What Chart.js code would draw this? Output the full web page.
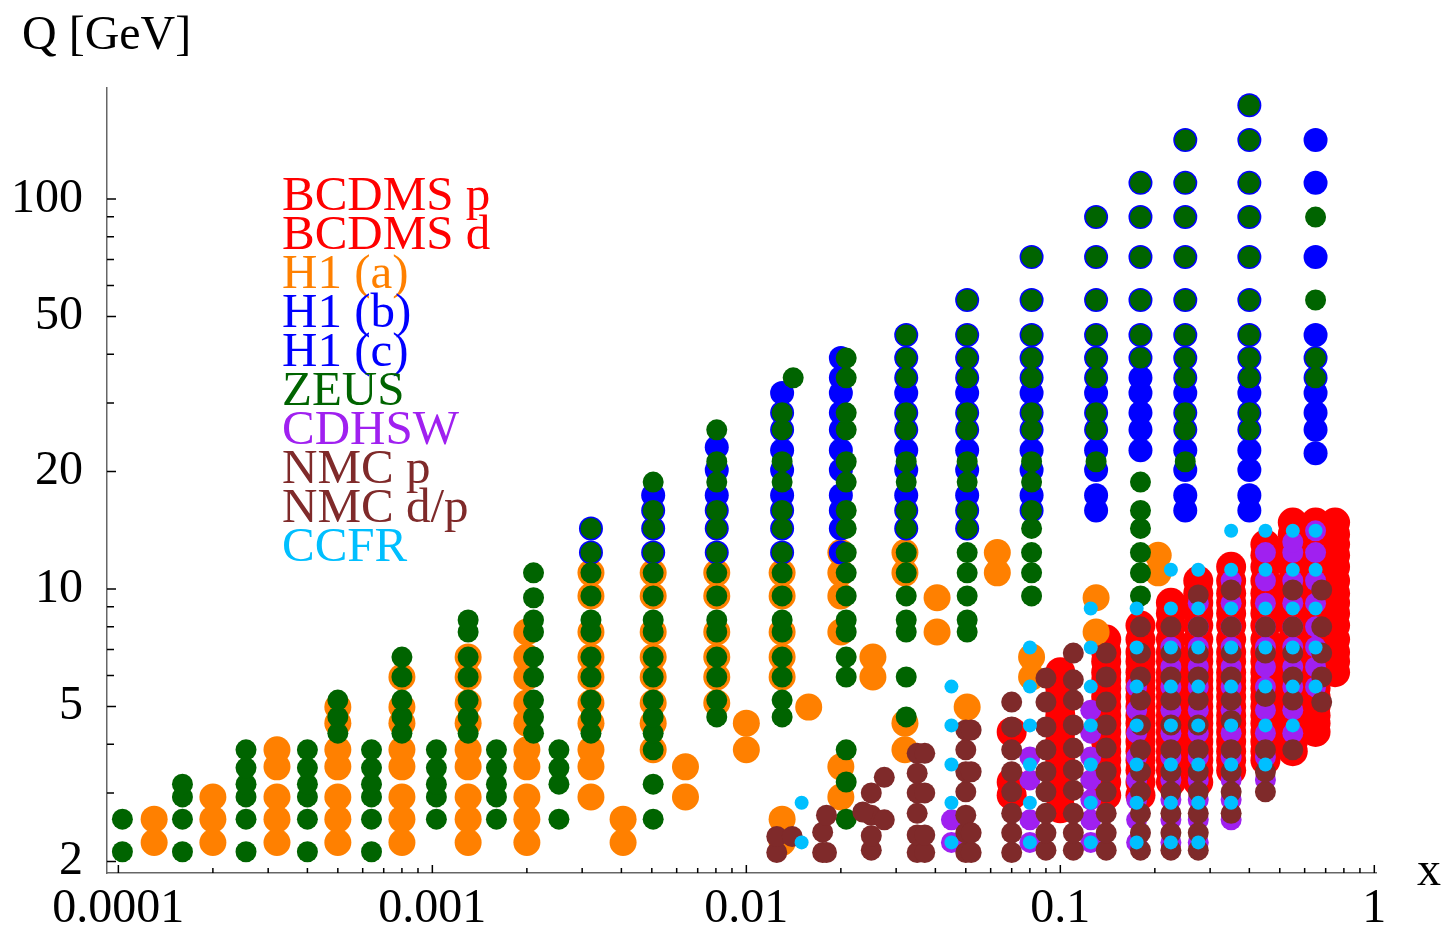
<!DOCTYPE html>
<html>
<head>
<meta charset="utf-8">
<script src="https://cdn.jsdelivr.net/npm/chart.js@4.4.1/dist/chart.umd.min.js"></script>
<style>
  body { margin: 0; background: #fff; }
  #wrap { position: relative; width: 1444px; height: 935px; font-family: "Liberation Serif", "Times New Roman", serif; }
  #c { position: absolute; left: 0; top: 0; }
  .lbl { position: absolute; font-size: 48px; line-height: 48px; color: #000; white-space: nowrap; }
  #legend { position: absolute; left: 282px; top: 174px; font-size: 49px; line-height: 39px; white-space: nowrap; }
</style>
</head>
<body>
<div id="wrap">
  <canvas id="c" width="1444" height="935"></canvas>
  <div class="lbl" style="left:22px; top:9px;">Q [GeV]</div>
  <div class="lbl" style="left:1417px; top:845px;">x</div>
  <div id="legend"></div>
</div>
<script>
// ---------- axis ticks ----------
const xTickVals = [0.0001, 0.001, 0.01, 0.1, 1];
const xTickLabels = ["0.0001", "0.001", "0.01", "0.1", "1"];
const yTickVals = [2, 5, 10, 20, 50, 100];
const yTickLabels = ["2", "5", "10", "20", "50", "100"];

// ---------- data: x bins and Q values [GeV] read at each bin ----------
// BCDMS p
const bcdmsPX = [0.07, 0.1, 0.14, 0.18, 0.225, 0.275, 0.35, 0.45, 0.55, 0.65, 0.75];
const bcdmsPQ = [
  [3.2],
  [2.74, 3.2, 3.64, 4.06, 4.53, 5.0, 5.57, 6.12],
  [3.2, 3.64, 4.06, 4.53, 5.0, 5.57, 6.12, 6.89],
  [3.2, 3.64, 4.06, 4.53, 5.0, 5.57, 6.12, 6.89, 8.06],
  [3.2, 3.64, 4.06, 4.53, 5.0, 5.57, 6.12, 6.89, 8.06, 9.22],
  [3.2, 3.64, 4.06, 4.53, 5.0, 5.57, 6.12, 6.89, 8.06, 9.22, 10.5],
  [3.64, 4.06, 4.53, 5.0, 5.57, 6.12, 6.89, 8.06, 9.22, 10.5],
  [3.64, 4.06, 4.53, 5.0, 5.57, 6.12, 6.89, 8.06, 9.22, 10.5, 12.2],
  [4.06, 4.53, 5.0, 5.57, 6.12, 6.89, 8.06, 9.22, 10.5, 12.2, 13.8],
  [4.53, 5.0, 5.57, 6.12, 6.89, 8.06, 9.22, 10.5, 12.2, 13.8],
  [6.12, 6.89, 8.06, 9.22, 10.5, 12.2, 13.8]
];
// BCDMS d
const bcdmsDX = [0.07, 0.1, 0.14, 0.18, 0.225, 0.275, 0.35, 0.45, 0.55, 0.65, 0.75];
const bcdmsDQ = [
  [2.96, 4.3],
  [2.96, 3.43, 3.84, 4.3, 4.74, 5.29, 5.83],
  [2.96, 3.43, 3.84, 4.3, 4.74, 5.29, 5.83, 6.52, 7.42],
  [2.96, 3.43, 3.84, 4.3, 4.74, 5.29, 5.83, 6.52, 7.42],
  [3.43, 3.84, 4.3, 4.74, 5.29, 5.83, 6.52, 7.42, 8.66],
  [3.43, 3.84, 4.3, 4.74, 5.29, 5.83, 6.52, 7.42, 8.66, 9.75],
  [3.43, 3.84, 4.3, 4.74, 5.29, 5.83, 6.52, 7.42, 8.66, 9.75, 11.4],
  [3.84, 4.3, 4.74, 5.29, 5.83, 6.52, 7.42, 8.66, 9.75, 11.4, 13.0],
  [3.84, 4.3, 4.74, 5.29, 5.83, 6.52, 7.42, 8.66, 9.75, 11.4, 13.0, 14.8],
  [4.3, 4.74, 5.29, 5.83, 6.52, 7.42, 8.66, 9.75, 11.4, 13.0, 14.8],
  [6.52, 7.42, 8.66, 9.75, 11.4, 13.0, 14.8]
];
// H1 (a)
const h1aX = [1.3e-4, 2.0e-4, 3.2e-4, 5.0e-4, 8.0e-4, 1.3e-3, 2.0e-3, 3.2e-3, 4.05e-3, 5.05e-3, 6.4e-3, 8.05e-3,
              1.0e-2, 1.3e-2, 1.58e-2, 2.0e-2, 2.53e-2, 3.2e-2, 4.05e-2, 5.05e-2, 6.3e-2, 8.1e-2, 0.13, 0.205];
const h1aQ = [
  [2.24, 2.57],
  [2.24, 2.57, 2.93],
  [2.24, 2.57, 2.93, 3.5, 3.87],
  [2.24, 2.57, 2.93, 3.5, 3.87, 4.53, 4.98],
  [2.24, 2.57, 2.93, 3.5, 3.87, 4.53, 4.98, 5.95],
  [2.24, 2.57, 2.93, 3.5, 3.87, 4.53, 5.1, 5.95, 6.69],
  [2.24, 2.57, 2.93, 3.5, 3.87, 4.53, 5.1, 5.95, 6.69, 7.76],
  [2.93, 3.5, 3.87, 4.53, 5.1, 5.95, 6.69, 7.76, 9.6, 11.0],
  [2.24, 2.57],
  [3.87, 4.53, 5.1, 5.95, 6.69, 7.76, 9.6, 11.0],
  [2.93, 3.5],
  [5.1, 5.95, 6.69, 7.76, 9.6, 11.0],
  [3.87, 4.53],
  [2.24, 2.57, 5.95, 6.69, 7.76, 9.6, 11.0],
  [4.98],
  [2.93, 3.5, 7.76, 9.6, 11.0, 12.4],
  [5.95, 6.69],
  [3.87, 4.53, 11.0, 12.4],
  [7.76, 9.5],
  [4.98],
  [11.0, 12.4],
  [5.95, 6.69],
  [7.76, 9.5],
  [11.0, 12.2]
];
// H1 (b)
const h1bX = [3.2e-3, 5.05e-3, 8.05e-3, 1.3e-2, 2.0e-2, 3.23e-2, 5.05e-2, 8.1e-2, 0.13, 0.18, 0.25, 0.40, 0.65];
const h1bQ = [
  [12.4, 14.3],
  [12.4, 14.3, 15.9, 17.4],
  [12.4, 14.3, 15.9, 17.4, 20.2, 23.1],
  [12.4, 14.3, 15.9, 17.4, 20.2, 22.7, 25.6, 28.3, 31.8],
  [12.4, 14.3, 15.9, 17.4, 20.2, 22.7, 25.6, 28.3, 31.8, 34.8, 39.1],
  [14.3, 15.9, 17.4, 20.2, 22.7, 25.6, 28.3, 31.8, 34.8, 39.1, 44.8],
  [14.3, 15.9, 17.4, 20.2, 22.7, 25.6, 28.3, 31.8, 34.8, 39.1, 44.8],
  [15.9, 17.4, 20.2, 22.7, 25.6, 28.3, 31.8, 34.8, 39.1, 44.8],
  [15.9, 17.4, 20.2, 22.7, 25.6, 28.3, 31.8, 34.8, 39.1, 44.8],
  [22.7, 25.6, 28.3, 31.8, 34.8, 39.1, 44.8],
  [15.9, 17.4, 20.2, 22.7, 25.6, 28.3, 31.8, 34.8, 39.1, 44.8],
  [15.9, 17.4, 20.2, 22.7, 25.6, 28.3, 31.8, 34.8, 39.1, 44.8],
  [22.3, 25.6, 28.3, 31.8, 34.8, 39.1, 44.8]
];
// H1 (c)
const h1cX = [5.05e-2, 8.1e-2, 0.13, 0.18, 0.25, 0.40, 0.65];
const h1cQ = [
  [55.1],
  [55.1, 71],
  [55.1, 71, 89.9],
  [55.1, 71, 89.9, 110],
  [55.1, 71, 89.9, 110, 141.6],
  [55.1, 71, 89.9, 110, 141.6, 174],
  [71, 110, 141.6]
];
// ZEUS
const zeusX = [1.03e-4, 1.6e-4, 2.55e-4, 4.0e-4, 5.0e-4, 6.4e-4, 8.0e-4, 1.03e-3, 1.3e-3, 1.6e-3, 2.1e-3, 2.53e-3,
               3.2e-3, 5.05e-3, 8.05e-3, 1.3e-2, 1.41e-2, 2.08e-2, 3.23e-2, 5.05e-2, 8.1e-2, 0.13, 0.18, 0.25, 0.40, 0.65];
const zeusQ = [
  [2.12, 2.57],
  [2.12, 2.57, 2.93, 3.16],
  [2.12, 2.57, 2.93, 3.16, 3.48, 3.87],
  [2.12, 2.57, 2.93, 3.16, 3.48, 3.87],
  [4.27, 4.7, 5.19],
  [2.12, 2.57, 2.93, 3.16, 3.48, 3.87],
  [4.27, 4.7, 5.19, 5.95, 6.69],
  [2.57, 2.93, 3.16, 3.48, 3.87],
  [4.27, 4.7, 5.19, 5.95, 6.69, 7.76, 8.33],
  [2.57, 2.93, 3.16, 3.48, 3.87],
  [4.27, 4.7, 5.19, 5.95, 6.69, 7.76, 8.33, 9.5, 11.0],
  [2.57, 3.16, 3.48, 3.87],
  [4.27, 4.7, 5.19, 5.95, 6.69, 7.76, 8.33, 9.6, 11.0, 12.4, 14.3],
  [2.57, 3.16, 3.87, 4.27, 4.7, 5.19, 5.95, 6.69, 7.76, 8.33, 9.6, 11.0, 12.4, 14.3, 15.9, 18.8],
  [4.7, 5.19, 5.95, 6.69, 7.76, 8.33, 9.6, 11.0, 12.4, 14.3, 15.9, 18.8, 21.2, 25.6],
  [4.7, 5.19, 5.95, 6.69, 7.76, 8.33, 9.6, 11.0, 12.4, 14.3, 15.9, 18.8, 21.2, 25.6, 28.3],
  [34.8],
  [2.57, 3.2, 3.87, 5.95, 6.69, 7.76, 8.33, 9.6, 11.0, 12.4, 14.3, 15.9, 18.8, 21.2, 25.6, 28.3, 34.8, 39.1],
  [4.7, 5.95, 7.76, 8.33, 9.6, 11.0, 12.4, 14.3, 15.9, 18.8, 21.2, 25.6, 28.3, 34.8, 39.1, 44.8],
  [7.76, 8.33, 9.6, 11.0, 12.4, 14.3, 15.9, 18.8, 21.2, 25.6, 28.3, 34.8, 39.1, 44.8, 55.1],
  [9.6, 11.0, 12.4, 14.3, 15.9, 18.8, 21.2, 25.6, 28.3, 34.8, 39.1, 44.8, 55.1, 71],
  [21.2, 25.6, 28.3, 34.8, 39.1, 44.8, 55.1, 71, 89.9],
  [9.6, 11.0, 12.4, 14.3, 15.9, 18.8, 39.1, 44.8, 55.1, 71, 89.9, 110],
  [21.2, 25.6, 28.3, 34.8, 39.1, 44.8, 55.1, 71, 89.9, 110, 141.6],
  [25.6, 28.3, 34.8, 39.1, 44.8, 55.1, 71, 89.9, 110, 141.6, 174],
  [34.8, 39.1, 55.1, 89.9]
];
// CDHSW
const cdhswX = [0.045, 0.08, 0.125, 0.175, 0.225, 0.275, 0.35, 0.45, 0.55, 0.65];
const cdhswQ = [
  [2.24, 2.56],
  [2.24, 2.56, 3.24, 3.71],
  [2.24, 2.56, 2.88, 3.24, 3.71, 4.27, 4.89],
  [2.24, 2.56, 2.88, 3.24, 3.71, 4.27, 4.89, 5.61],
  [2.24, 2.56, 2.88, 3.24, 3.71, 4.27, 4.89, 5.61, 6.31, 7.1],
  [2.24, 2.56, 2.88, 3.24, 3.71, 4.27, 4.89, 5.61, 6.31, 7.1, 8.0, 9.2],
  [2.56, 2.88, 3.24, 3.71, 4.27, 4.89, 5.61, 6.31, 7.1, 8.0, 9.2, 10.5],
  [3.24, 3.71, 4.27, 4.89, 5.61, 6.31, 7.1, 8.0, 9.2, 10.5, 12.4],
  [4.27, 4.89, 5.61, 6.31, 7.1, 8.0, 9.2, 10.5, 12.4, 13.2],
  [5.61, 6.31, 7.1, 8.0, 9.2, 10.5, 12.4, 14.1]
];
// NMC p
const nmcPX = [0.0125, 0.0175, 0.025, 0.035, 0.05, 0.07, 0.09, 0.11, 0.14, 0.18, 0.225, 0.275, 0.35, 0.45, 0.55, 0.68];
const nmcPQ = [
  [2.11, 2.32],
  [2.11, 2.38],
  [2.14, 2.33, 2.63, 3.0],
  [2.11, 2.34, 2.66, 3.0, 3.37, 3.79],
  [2.11, 2.37, 2.63, 3.02, 3.4, 3.87, 4.35],
  [2.11, 2.37, 2.66, 3.02, 3.4, 3.87, 4.43, 5.13],
  [2.14, 2.37, 2.66, 3.02, 3.4, 3.87, 4.43, 5.13, 5.91],
  [2.14, 2.37, 2.66, 3.05, 3.44, 3.91, 4.48, 5.19, 5.85, 6.85],
  [2.14, 2.37, 2.66, 3.02, 3.4, 3.91, 4.48, 5.13, 5.95, 6.85],
  [2.14, 2.37, 2.66, 3.02, 3.4, 3.87, 4.48, 5.19, 5.95, 6.85, 8.0],
  [2.14, 2.37, 2.66, 3.02, 3.4, 3.87, 4.48, 5.19, 5.95, 6.85, 8.0],
  [2.14, 2.37, 2.66, 3.02, 3.4, 3.87, 4.48, 5.19, 5.95, 6.85, 8.0, 9.66],
  [2.66, 3.02, 3.4, 3.87, 4.6, 5.19, 5.95, 6.85, 8.0, 9.94],
  [3.02, 3.4, 3.87, 5.3, 6.85, 8.0],
  [3.87, 5.19, 5.95, 6.85, 8.0, 9.94],
  [5.13, 5.95, 6.85, 8.0, 9.94]
];
// NMC d/p
const nmcDX = [0.014, 0.018, 0.0235, 0.0275, 0.037, 0.052];
const nmcDQ = [
  [2.32],
  [2.11, 2.63],
  [2.68],
  [2.56, 3.29],
  [2.11, 2.34, 3.0, 3.79],
  [2.11, 2.37, 3.4, 4.35]
];
// CCFR
const ccfrX = [0.015, 0.045, 0.08, 0.125, 0.175, 0.225, 0.275, 0.35, 0.45, 0.55, 0.65];
const ccfrQ = [
  [2.24, 2.83],
  [2.24, 2.83, 3.55, 4.47, 5.62],
  [2.24, 2.83, 3.55, 4.47, 5.62, 7.08],
  [2.24, 2.83, 3.55, 4.47, 5.62, 7.08, 8.91],
  [2.24, 2.83, 3.55, 4.47, 5.62, 7.08, 8.91],
  [2.24, 2.83, 3.55, 4.47, 5.62, 7.08, 8.91, 11.2],
  [2.24, 2.83, 3.55, 4.47, 5.62, 7.08, 8.91, 11.2],
  [2.83, 3.55, 4.47, 5.62, 7.08, 8.91, 11.2, 14.1],
  [3.55, 4.47, 5.62, 7.08, 8.91, 11.2, 14.1],
  [4.47, 5.62, 7.08, 8.91, 11.2, 14.1],
  [5.62, 7.08, 8.91, 11.2, 14.1]
];

// ---------- series setup (legend order = back to front) ----------
const series = [
  { name: "BCDMS p", xs: bcdmsPX, qs: bcdmsPQ, color: "#ff0000", r: 15 },
  { name: "BCDMS d", xs: bcdmsDX, qs: bcdmsDQ, color: "#ff0000", r: 15 },
  { name: "H1 (a)",  xs: h1aX,    qs: h1aQ,    color: "#ff8000", r: 13.5 },
  { name: "H1 (b)",  xs: h1bX,    qs: h1bQ,    color: "#0000ff", r: 12 },
  { name: "H1 (c)",  xs: h1cX,    qs: h1cQ,    color: "#0000ff", r: 12 },
  { name: "ZEUS",    xs: zeusX,   qs: zeusQ,   color: "#006400", r: 10.5 },
  { name: "CDHSW",   xs: cdhswX,  qs: cdhswQ,  color: "#a020f0", r: 10.5 },
  { name: "NMC p",   xs: nmcPX,   qs: nmcPQ,   color: "#7f2a2a", r: 10.5 },
  { name: "NMC d/p", xs: nmcDX,   qs: nmcDQ,   color: "#7f2a2a", r: 10.5 },
  { name: "CCFR",    xs: ccfrX,   qs: ccfrQ,   color: "#00bfff", r: 7 }
];

const toPoints = (xs, qs) => xs.flatMap((x, i) => qs[i].map(q => ({ x: x, y: q })));

const datasets = series.map((s, i) => ({
  label: s.name,
  data: toPoints(s.xs, s.qs),
  backgroundColor: s.color,
  borderWidth: 0,
  pointRadius: s.r,
  pointBorderWidth: 0,
  showLine: false,
  order: series.length - i   // first in legend is drawn at the back
}));

// legend as real text
const legend = document.getElementById("legend");
series.forEach(s => {
  const d = document.createElement("div");
  d.textContent = s.name;
  d.style.color = s.color;
  legend.appendChild(d);
});

// inward tick marks on the two axes
const tickMarks = {
  id: "tickMarks",
  afterDraw(chart) {
    const { ctx, chartArea: a, scales: { x, y } } = chart;
    ctx.save();
    ctx.strokeStyle = "#000";
    ctx.lineWidth = 1.5;
    ctx.beginPath();
    for (let e = -4; e <= 0; e++) {
      for (let m = 1; m <= 9; m++) {
        const v = m * Math.pow(10, e);
        if (v > x.max) break;
        const px = x.getPixelForValue(v);
        const len = m === 1 ? 8 : 5;
        ctx.moveTo(px, a.bottom);
        ctx.lineTo(px, a.bottom - len);
      }
    }
    for (let e = 0; e <= 2; e++) {
      for (let m = 1; m <= 9; m++) {
        const v = m * Math.pow(10, e);
        if (v < y.min || v > y.max) continue;
        const py = y.getPixelForValue(v);
        const len = yTickVals.includes(v) ? 9 : 7;
        ctx.moveTo(a.left, py);
        ctx.lineTo(a.left + len, py);
      }
    }
    ctx.stroke();
    ctx.restore();
  }
};

const tickFont = { family: "Liberation Serif", size: 48 };

new Chart(document.getElementById("c"), {
  type: "scatter",
  data: { datasets },
  options: {
    responsive: false,
    animation: false,
    events: [],
    layout: { padding: { top: 88, right: 68, left: 0, bottom: 0 } },
    plugins: { legend: { display: false }, tooltip: { enabled: false } },
    scales: {
      x: {
        type: "logarithmic",
        bounds: "data",
        min: 9.2e-5,
        max: 1.0125,
        grid: { display: false, drawTicks: false },
        border: { display: true, color: "#666", width: 1.5 },
        afterBuildTicks: s => { s.ticks = xTickVals.map(v => ({ value: v })); },
        afterFit: s => { s.height = 62; },
        ticks: {
          autoSkip: false, maxRotation: 0, minRotation: 0, padding: 8,
          color: "#000", font: tickFont,
          callback: (v, i) => xTickLabels[i]
        }
      },
      y: {
        type: "logarithmic",
        bounds: "data",
        min: 1.87,
        max: 192.6,
        grid: { display: false, drawTicks: false },
        border: { display: true, color: "#666", width: 1.5 },
        afterBuildTicks: s => { s.ticks = yTickVals.map(v => ({ value: v })); },
        afterFit: s => { s.width = 107; },
        ticks: {
          autoSkip: false, padding: 24,
          color: "#000", font: tickFont,
          callback: (v, i) => yTickLabels[i]
        }
      }
    }
  },
  plugins: [tickMarks]
});
</script>
</body>
</html>
